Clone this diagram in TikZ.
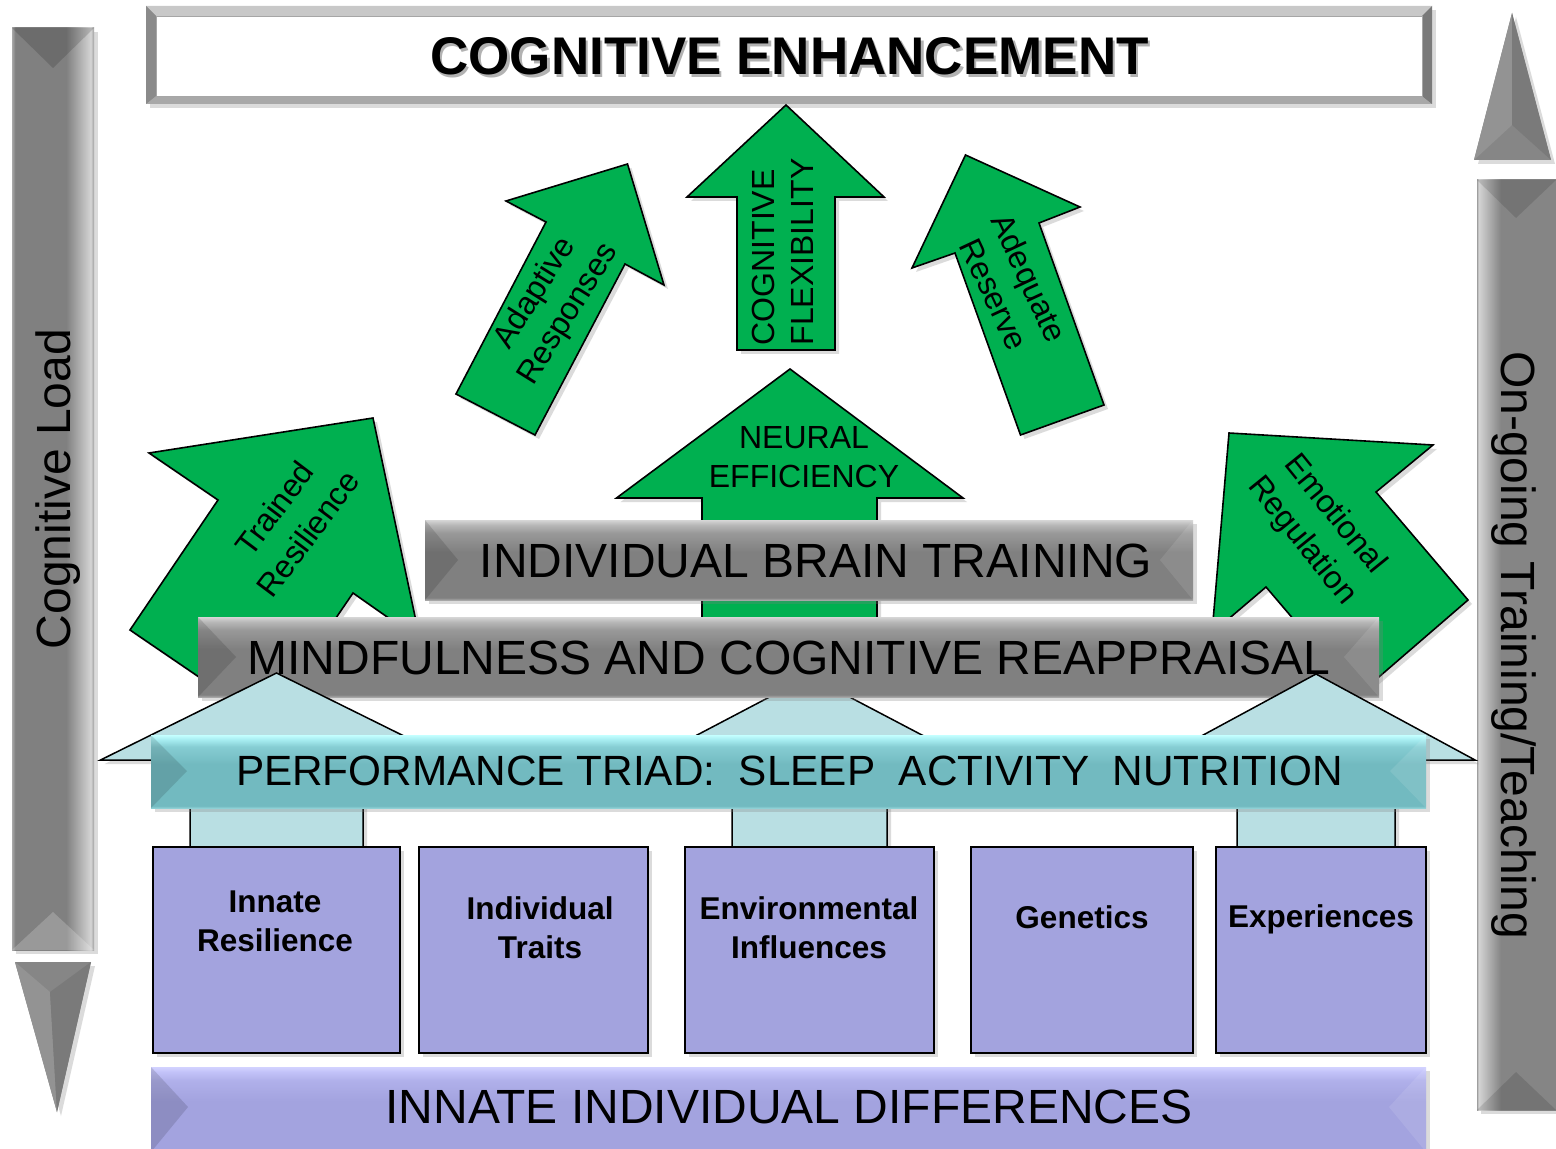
\documentclass[tikz,border=0pt]{standalone}
\usepackage{fontspec}
\setmainfont{Liberation Sans}
\usetikzlibrary{shadows}
% colours
\definecolor{agreen}{HTML}{00B050}
\definecolor{lcyan}{HTML}{B9DFE3}
\definecolor{bpurple}{HTML}{A3A3DE}
\definecolor{gT}{HTML}{D6D6D6}
\definecolor{gL}{HTML}{B8B8B8}
\definecolor{gU}{HTML}{999999}
\definecolor{gM}{HTML}{808080}
\definecolor{gB}{HTML}{A6A6A6}
\definecolor{tT}{HTML}{C4FFFF}
\definecolor{tL}{HTML}{A8EEF2}
\definecolor{tU}{HTML}{86CDD3}
\definecolor{tM}{HTML}{72BAC0}
\definecolor{tB}{HTML}{8FD0D5}
\definecolor{pT}{HTML}{D2D2FF}
\definecolor{pL}{HTML}{C2C2F8}
\definecolor{pU}{HTML}{B0B0EA}
\definecolor{pM}{HTML}{A3A3DF}
\definecolor{pB}{HTML}{B0B0E8}
\definecolor{sA}{HTML}{A8A8A8}
\definecolor{sM}{HTML}{808080}
\definecolor{sH}{HTML}{D4D4D4}
\definecolor{sE}{HTML}{A0A0A0}
\definecolor{sM2}{HTML}{858585}
\definecolor{frT}{HTML}{C8C8C8}
\definecolor{frB}{HTML}{A8A8A8}
\definecolor{frL}{HTML}{8A8A8A}
\definecolor{frR}{HTML}{7A7A7A}
\definecolor{ahL}{HTML}{939393}
\definecolor{ahM}{HTML}{868686}
\definecolor{ahD}{HTML}{7A7A7A}
\pgfdeclareverticalshading{graysh}{100bp}{color(0bp)=(gB); color(25bp)=(gB); color(26.5bp)=(gM); color(55bp)=(gM); color(67bp)=(gU); color(72bp)=(gL); color(75bp)=(gT); color(100bp)=(gT)}
\pgfdeclareverticalshading{triadsh}{100bp}{color(0bp)=(tB); color(25bp)=(tB); color(26.5bp)=(tM); color(55bp)=(tM); color(67bp)=(tU); color(72bp)=(tL); color(75bp)=(tT); color(100bp)=(tT)}
\pgfdeclareverticalshading{purplesh}{100bp}{color(0bp)=(pB); color(25bp)=(pB); color(26.5bp)=(pM); color(55bp)=(pM); color(67bp)=(pU); color(72bp)=(pL); color(75bp)=(pT); color(100bp)=(pT)}
\pgfdeclarehorizontalshading{sideLsh}{100bp}{color(0bp)=(sA); color(25bp)=(sA); color(27bp)=(sM); color(58bp)=(sM); color(73bp)=(sH); color(75bp)=(sE); color(100bp)=(sE)}
\pgfdeclarehorizontalshading{sideRsh}{100bp}{color(0bp)=(sE); color(25bp)=(sE); color(26bp)=(sH); color(40bp)=(sM2); color(75bp)=(sM2); color(100bp)=(sM2)}
\tikzset{
  shad/.style={drop shadow={shadow xshift=2pt, shadow yshift=-2pt, opacity=0.28}},
  greenarrow/.style={fill=agreen, draw=black, line width=0.8pt, shad},
  lightarrow/.style={fill=lcyan, draw=black, line width=0.75pt, shad},
  purplebox/.style={fill=bpurple, draw=black, line width=1pt, shad},
  graybar/.style={shading=graysh, shad},
  triadbar/.style={shading=triadsh, shad},
  purplebar/.style={shading=purplesh, shad},
  darkbevel/.style={fill=black, fill opacity=0.13},
  lightbevel/.style={fill=white, fill opacity=0.10},
  titletxt/.style={font=\bfseries\fontsize{26.5}{30}\selectfont, inner sep=0pt, anchor=base},
  bigtxt/.style={font=\fontsize{24}{28}\selectfont, inner sep=0pt, anchor=base},
  triadtxt/.style={font=\fontsize{21.15}{25}\selectfont, inner sep=0pt, anchor=base},
  lbl/.style={font=\fontsize{16}{19.5}\selectfont, align=center, inner sep=0pt},
  lblwide/.style={font=\fontsize{16}{21}\selectfont, align=center, inner sep=0pt},
  boxlbl/.style={font=\bfseries\fontsize{15.75}{19.5}\selectfont, align=center, inner sep=0pt},
}
\begin{document}
\begin{tikzpicture}[x=0.5pt,y=-0.5pt,line join=miter]
\useasboundingbox (0,0) rectangle (1556,1149);
\fill[white] (0,0) rectangle (1556,1149);

% ---------- top title box ----------
\fill[gray!60, shad] (146,6) rectangle (1432,104);
\fill[frT] (146,6) -- (1432,6) -- (1422,16) -- (156,16) -- cycle;
\fill[frB] (146,104) -- (1432,104) -- (1422,96) -- (156,96) -- cycle;
\fill[frL] (146,6) -- (156,16) -- (156,96) -- (146,104) -- cycle;
\fill[frR] (1432,6) -- (1422,16) -- (1422,96) -- (1432,104) -- cycle;
\filldraw[fill=white, draw=gray!70, line width=0.4pt] (156,16) rectangle (1422,96);
\node[titletxt, text=black!30] (ceshadow) at (792,78) {COGNITIVE ENHANCEMENT};
\node[titletxt] (ce) at (789.5,75) {COGNITIVE ENHANCEMENT};

% ---------- left side arrow (Cognitive Load) ----------
\path[shading=sideLsh, shad] (12,28) rectangle (94,950);
\fill[black, opacity=0.15] (12,28) -- (53,68) -- (94,28) -- cycle;
\fill[white, opacity=0.2] (12,950) -- (53,912) -- (94,950) -- cycle;
\fill[ahM, shad] (15,962) -- (91,962) -- (57,1112) -- cycle;
\fill[ahL] (15,962) -- (50,992) -- (57,1112) -- cycle;
\fill[ahD] (91,962) -- (50,992) -- (57,1112) -- cycle;
\node[bigtxt, rotate=90] (cogload) at (70,489) {Cognitive Load};

% ---------- right side arrow (On-going Training) ----------
\path[shading=sideRsh, shad] (1477,180) rectangle (1556,1110);
\fill[black, opacity=0.12] (1477,180) -- (1516,218) -- (1556,180) -- cycle;
\fill[black, opacity=0.12] (1477,1110) -- (1516,1072) -- (1556,1110) -- cycle;
\fill[ahM, shad] (1512,13) -- (1551,160) -- (1474,160) -- cycle;
\fill[ahL] (1512,13) -- (1512,125) -- (1474,160) -- cycle;
\fill[ahD] (1512,13) -- (1512,125) -- (1551,160) -- cycle;
\node[bigtxt, rotate=-90] (ongoing) at (1501,645) {On-going Training/Teaching};

% ---------- green arrows ----------
% Cognitive flexibility
\path[greenarrow] (786,105) -- (884,197) -- (835,197) -- (835,350) -- (737,350) -- (737,197) -- (687,197) -- cycle;
\node[lbl, rotate=90, align=left] (flex) at (783,252) {COGNITIVE\\FLEXIBILITY};
% Adaptive responses
\path[greenarrow] (627.5,164) -- (664,285) -- (625,264) -- (535,435) -- (456,394) -- (546,222) -- (506,201) -- cycle;
\node[lbl, rotate=58] (adapt) at (552,304) {Adaptive\\Responses};
% Adequate reserve
\path[greenarrow] (965.5,155) -- (1080,207) -- (1039,223) -- (1104,405) -- (1020.5,435) -- (955,253) -- (912,268) -- cycle;
\node[lbl, rotate=-65] (reserve) at (1012,286) {Adequate\\Reserve};
% Neural efficiency
\path[greenarrow] (790,369) -- (963,498) -- (877,498) -- (877,680) -- (702,680) -- (702,498) -- (616.5,498) -- cycle;
\node[lbl] (neural) at (804,457) {NEURAL\\EFFICIENCY};
% Trained resilience
\path[greenarrow] (373,418) -- (420,640) -- (353,593) -- (265,722) -- (130,630) -- (218,500) -- (149,453) -- cycle;
\node[lblwide, rotate=53] (trained) at (291,521) {Trained\\Resilience};
% Emotional regulation
\path[greenarrow] (1229,433) -- (1433,445) -- (1376,492) -- (1468,600) -- (1358,695) -- (1266,587) -- (1212,633) -- cycle;
\node[lblwide, rotate=-51] (emotional) at (1318,528) {Emotional\\Regulation};

% ---------- individual brain training bar ----------
\path[graybar] (425,520) rectangle (1193,600);
\fill[darkbevel] (425,520) -- (458,560) -- (425,600) -- cycle;
\fill[lightbevel] (1193,520) -- (1160,560) -- (1193,600) -- cycle;
\node[bigtxt] (ibt) at (816,577) {INDIVIDUAL BRAIN TRAINING};

% middle light arrow (behind mindfulness bar)
\path[lightarrow] (809.5,676) -- (969.5,760) -- (887,760) -- (887,847) -- (732,847) -- (732,760) -- (649.5,760) -- cycle;

% ---------- mindfulness bar ----------
\path[graybar] (198,617) rectangle (1379,697);
\fill[darkbevel] (198,617) -- (236,657) -- (198,697) -- cycle;
\fill[lightbevel] (1379,617) -- (1344,657) -- (1379,697) -- cycle;
\node[bigtxt] (mcr) at (789,674) {MINDFULNESS AND COGNITIVE REAPPRAISAL};

% left and right light arrows (over mindfulness bar)
\path[lightarrow] (276.5,673) -- (452.5,760) -- (363,760) -- (363,847) -- (190,847) -- (190,760) -- (100.5,760) -- cycle;
\path[lightarrow] (1316,674) -- (1475,760) -- (1395,760) -- (1395,847) -- (1237,847) -- (1237,760) -- (1157,760) -- cycle;

% ---------- performance triad bar ----------
\path[triadbar] (151,735) rectangle (1426,808);
\fill[darkbevel] (151,735) -- (187,771) -- (151,808) -- cycle;
\fill[lightbevel] (1426,735) -- (1390,771) -- (1426,808) -- cycle;
\node[triadtxt] (triad) at (789.5,785) {PERFORMANCE TRIAD:\ \ SLEEP\ \ ACTIVITY\ \ NUTRITION};

% ---------- innate boxes ----------
\path[purplebox] (153,847) rectangle (400,1053);
\path[purplebox] (419,847) rectangle (648,1053);
\path[purplebox] (685,847) rectangle (934,1053);
\path[purplebox] (971,847) rectangle (1193,1053);
\path[purplebox] (1216,847) rectangle (1426,1053);
\node[boxlbl] (innres) at (275,921) {Innate\\Resilience};
\node[boxlbl] (indtr) at (540,928) {Individual\\Traits};
\node[boxlbl] (envinf) at (809,928) {Environmental\\Influences};
\node[boxlbl, anchor=base] (genet) at (1082,928) {Genetics};
\node[boxlbl, anchor=base] (exper) at (1321,927) {Experiences};

% ---------- bottom bar ----------
\path[purplebar] (151,1067) rectangle (1426,1152);
\fill[darkbevel] (151,1067) -- (188,1107) -- (151,1152) -- cycle;
\fill[lightbevel] (1426,1067) -- (1389,1107) -- (1426,1152) -- cycle;
\node[bigtxt] (iid) at (789,1123) {INNATE INDIVIDUAL DIFFERENCES};
\end{tikzpicture}
\end{document}
